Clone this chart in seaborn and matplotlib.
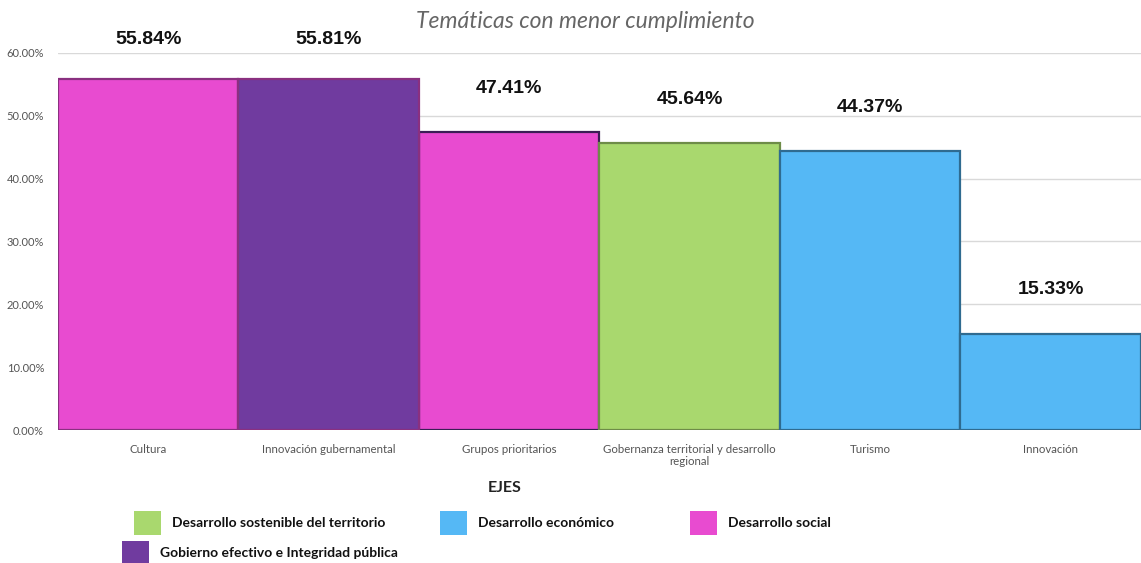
import matplotlib
matplotlib.use("Agg")
import matplotlib.pyplot as plt
from matplotlib.patches import Rectangle
import seaborn as sns
import pandas as pd

categorias = ["Cultura", "Innovación gubernamental", "Grupos prioritarios",
              "Gobernanza territorial y desarrollo\nregional", "Turismo", "Innovación"]
valores = [55.84, 55.81, 47.41, 45.64, 44.37, 15.33]
ejes = ["Desarrollo social", "Gobierno efectivo e Integridad pública", "Desarrollo social",
        "Desarrollo sostenible del territorio", "Desarrollo económico", "Desarrollo económico"]
etiquetas_y = ["0.00%", "10.00%", "20.00%", "30.00%", "40.00%", "50.00%", "60.00%"]
orden_leyenda = ["Desarrollo sostenible del territorio", "Desarrollo económico",
                 "Desarrollo social", "Gobierno efectivo e Integridad pública"]

colores = {
    "Desarrollo sostenible del territorio": "#A9D86E",
    "Desarrollo económico": "#55B8F5",
    "Desarrollo social": "#E84BD0",
    "Gobierno efectivo e Integridad pública": "#703B9F",
}
bordes = {
    "Desarrollo sostenible del territorio": "#6E8C48",
    "Desarrollo económico": "#2F6B90",
    "Desarrollo social": "#8A3080",
    "Gobierno efectivo e Integridad pública": "#3A1E55",
}

df = pd.DataFrame({"cat": categorias, "val": valores, "eje": ejes})

sns.set_style("white")
plt.rcParams["font.family"] = ["Liberation Sans", "DejaVu Sans"]

fig = plt.figure(figsize=(11.41, 5.63), dpi=100)
ax = fig.add_axes([0.0508, 0.2362, 0.9492, 0.6697])

sns.barplot(data=df, x="cat", y="val", hue="eje", palette=colores, dodge=False,
            width=1.0, ax=ax, legend=False, saturation=1)

for patch, eje in zip(ax.patches, ejes):
    patch.set_edgecolor(bordes[eje])
    patch.set_linewidth(1.6)

ax.set_ylim(0, 60)
ax.set_xlim(-0.5, 5.5)
ax.set_yticks(range(0, 61, 10))
ax.set_yticklabels(etiquetas_y, fontsize=8, color="#555555", family="Lato")
ax.set_xticks(range(len(categorias)))
ax.set_xticklabels(categorias, fontsize=8.3, color="#555555", family="Lato",
                   linespacing=1.1)
ax.tick_params(axis="x", length=0, pad=10)
ax.tick_params(axis="y", length=0, pad=10)
ax.yaxis.grid(True, color="#D9D9D9", linewidth=1)
ax.set_axisbelow(True)
for s in ax.spines.values():
    s.set_visible(False)
ax.set_ylabel("")
ax.set_xlabel("")

for i, v in enumerate(valores):
    ax.text(i, min(v + 7.0, 62.1), f"{v:.2f}%", ha="center", va="center",
            fontsize=14, fontweight="bold", color="#111111", clip_on=False)

W, H = 1141, 563
fig.text(0.513, 1 - 22 / H, "Temáticas con menor cumplimiento", ha="center", va="center",
         fontsize=16.5, style="italic", color="#666666", family="Lato")
fig.text(505 / W, 1 - 488 / H, "EJES", ha="center", va="center",
         fontsize=11.5, fontweight="bold", family="Lato", color="#222222")

# leyenda manual
pos = {
    "Desarrollo sostenible del territorio": (134, 523),
    "Desarrollo económico": (440, 523),
    "Desarrollo social": (690, 523),
    "Gobierno efectivo e Integridad pública": (122, 553),
}
for eje in orden_leyenda:
    x, y = pos[eje]
    fig.add_artist(Rectangle((x / W, (H - y - 12) / H), 27 / W, 24 / H,
                             transform=fig.transFigure, facecolor=colores[eje],
                             edgecolor="none"))
    fig.text((x + 38) / W, (H - y) / H, eje, ha="left", va="center",
             fontsize=10, fontweight="bold", family="Lato", color="#111111")

fig.savefig("out.png", dpi=100)
